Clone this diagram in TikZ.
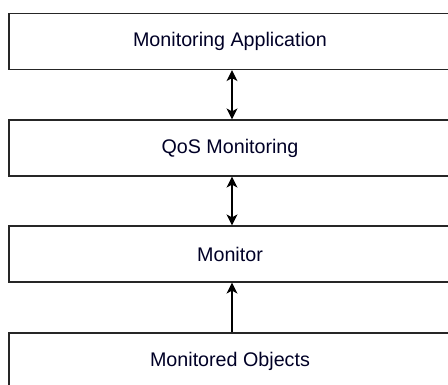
\documentclass[tikz,border=0pt]{standalone}
\usepackage{fontspec}
\setmainfont{Liberation Sans}
\usetikzlibrary{arrows.meta}
\begin{document}
\begin{tikzpicture}[x=1pt,y=-1pt,
  layerbox/.style={draw=black!85,line width=1.2pt,minimum width=442pt,minimum height=56pt,inner sep=0pt,font=\fontsize{19.7}{22}\selectfont,text=black!85!blue},
  conn/.style={line width=1.3pt,draw=black,>={Stealth[length=11pt,width=11pt,inset=3pt]}}]
\useasboundingbox (0,0) rectangle (448,385);
\clip (0,0) rectangle (448,385);
\node[layerbox] (b1) at (230,41.5) {Monitoring Application};
\node[layerbox] (b2) at (230,148) {QoS Monitoring};
\node[layerbox] (b3) at (230,254) {Monitor};
\node[layerbox] (b4) at (230,361) {Monitored Objects};
\coordinate (ax) at (232,0);
\draw[conn,<->] (b1.south -| ax) -- (b2.north -| ax);
\draw[conn,<->] (b2.south -| ax) -- (b3.north -| ax);
\draw[conn,->] (b4.north -| ax) -- (b3.south -| ax);
\end{tikzpicture}
\end{document}
